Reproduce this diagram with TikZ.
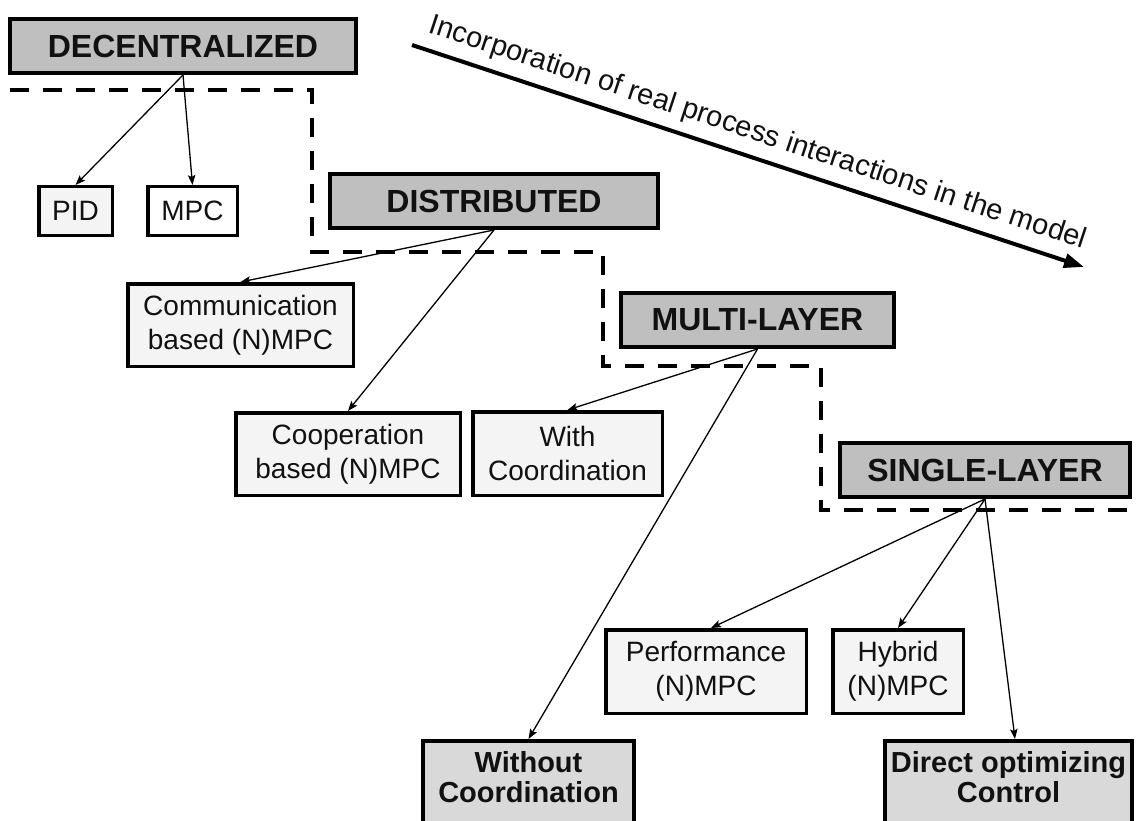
\documentclass[tikz,border=0pt]{standalone}
\usepackage{fontspec}
\setmainfont{Liberation Sans}
\usetikzlibrary{arrows.meta,calc}

\definecolor{headgray}{HTML}{BFBFBF}
\definecolor{leafgray}{HTML}{F4F4F4}
\definecolor{endgray}{HTML}{D9D9D9}
\definecolor{ink}{HTML}{111111}

\begin{document}
\begin{tikzpicture}[x=1pt,y=-1pt,
  levelbox/.style={draw=black, line width=4pt, fill=headgray, inner sep=0pt,
    minimum height=54pt, text=ink, font=\fontsize{32}{38}\selectfont\bfseries},
  leafbox/.style={draw=black, line width=3.5pt, fill=leafgray, inner sep=0pt,
    align=center, text=ink, font=\fontsize{28}{34}\selectfont},
  endbox/.style={draw=black, line width=4pt, fill=endgray, inner sep=0pt,
    anchor=north, minimum height=100pt},
  endlabel/.style={inner sep=0pt, align=center, anchor=north, text=ink,
    font=\fontsize{29}{30}\selectfont\bfseries},
  branch/.style={line width=1.3pt, -{Stealth[length=10pt,width=7.5pt,inset=2pt]}},
  boundary/.style={line width=4pt, dash pattern=on 19pt off 14pt},
  trend/.style={line width=4pt, -{Triangle[length=20pt,width=14pt]}}
]
\clip (0,0) rectangle (1137,821);
\fill[white] (0,0) rectangle (1137,821);

% boundaries between the control structures
\draw[boundary] (10,90) -- (312,90) -- (312,252) -- (603,252) -- (603,366)
  -- (821,366) -- (821,510) -- (1140,510);

% main structures
\node[levelbox, minimum width=346pt] (dec) at (183,46) {DECENTRALIZED};
\node[levelbox, minimum width=328pt] (dist) at (494,201) {DISTRIBUTED};
\node[levelbox, minimum width=273pt] (multi) at (757.5,320) {MULTI-LAYER};
\node[levelbox, minimum width=290pt] (single) at (985,470) {SINGLE-LAYER};

% decentralized variants
\node[leafbox, minimum width=73.5pt, minimum height=48.5pt] (pid) at (75.5,211) {PID};
\node[leafbox, fill=white, minimum width=89.5pt, minimum height=48.5pt] (mpc) at (192.5,211) {MPC};

% distributed variants
\node[leafbox, minimum width=225.5pt, minimum height=82.5pt] (comm) at (240.5,325) {Communication\\based (N)MPC};
\node[leafbox, minimum width=224.5pt, minimum height=82.5pt] (coop) at (348,454) {Cooperation\\based (N)MPC};

% multi-layer variants
\node[leafbox, minimum width=189.5pt, minimum height=83.5pt] (withc) at (567.5,453.5) {With\\Coordination};
\node[endbox, minimum width=211pt] (woc) at (528.5,739) {};
\node[endlabel] (wocl) at (528.5,751.5) {Without\\Coordination};

% single-layer variants
\node[leafbox, minimum width=200.5pt, minimum height=83.5pt] (perf) at (706,671.5) {Performance\\(N)MPC};
\node[leafbox, minimum width=130.5pt, minimum height=83.5pt] (hyb) at (898,671.5) {Hybrid\\(N)MPC};
\node[endbox, minimum width=247pt] (doc) at (1008.5,739) {};
\node[endlabel] (docl) at (1008.5,751.5) {Direct optimizing\\Control};

% branches
\draw[branch] (dec.south) -- (pid.north);
\draw[branch] (dec.south) -- (mpc.north);
\draw[branch] (dist.south) -- (comm.north);
\draw[branch] (dist.south) -- (coop.north);
\draw[branch] (multi.south) -- (withc.north);
\draw[branch] (multi.south) -- (woc.north);
\draw[branch] (single.south) -- ($(perf.north)+(5,0)$);
\draw[branch] (single.south) -- (hyb.north);
\draw[branch] (single.south) -- ($(doc.north)+(6.5,0)$);

% trend of the classification
\coordinate (trendA) at (412,45);
\coordinate (trendB) at (1084,267);
\draw[trend] (trendA) -- node[sloped, above=9pt, pos=0.503, inner sep=0pt,
  text=ink, font=\fontsize{29}{34}\selectfont] (trendlbl)
  {Incorporation of real process interactions in the model} (trendB);
\end{tikzpicture}
\end{document}
